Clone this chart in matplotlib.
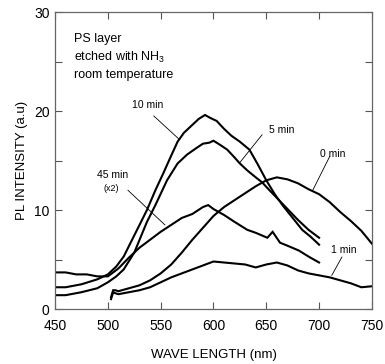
import matplotlib
matplotlib.use("Agg")
import matplotlib.pyplot as plt
from matplotlib.ticker import MultipleLocator, FixedLocator

plt.rcParams['font.family'] = ['Liberation Sans', 'DejaVu Sans']
plt.rcParams['mathtext.fontset'] = 'custom'
plt.rcParams['mathtext.rm'] = 'Liberation Sans'

# ---- data ----
wl_10 = [450, 460, 475, 490, 500, 508, 515, 522, 530, 537, 545, 552, 560, 566, 572, 580, 586, 592, 597, 603, 610, 617, 625, 634, 642, 650, 658, 666, 675, 684, 692, 700]
pl_10 = [2.2, 2.2, 2.5, 3.0, 3.5, 4.3, 5.3, 6.8, 8.5, 10.0, 12.0, 13.6, 15.5, 16.9, 17.8, 18.6, 19.2, 19.6, 19.3, 19.0, 18.2, 17.5, 16.9, 16.1, 14.6, 13.0, 11.6, 10.4, 9.2, 8.0, 7.3, 6.5]

wl_5 = [450, 460, 475, 490, 500, 508, 515, 525, 537, 545, 556, 566, 575, 583, 590, 596, 600, 606, 613, 620, 625, 632, 640, 646, 653, 662, 671, 680, 690, 700]
pl_5 = [1.4, 1.4, 1.7, 2.1, 2.7, 3.3, 4.0, 5.7, 8.8, 10.5, 13.0, 14.7, 15.6, 16.2, 16.7, 16.8, 17.0, 16.6, 16.1, 15.3, 14.7, 14.0, 13.3, 12.8, 12.0, 11.0, 10.0, 9.0, 8.0, 7.2]

wl_0 = [503, 505, 507, 510, 520, 530, 540, 550, 560, 570, 580, 590, 600, 610, 620, 630, 640, 650, 660, 670, 680, 690, 700, 710, 720, 730, 740, 750]
pl_0 = [1.2, 1.9, 1.9, 1.8, 2.1, 2.4, 2.9, 3.6, 4.5, 5.7, 7.0, 8.2, 9.4, 10.3, 11.0, 11.7, 12.4, 13.0, 13.3, 13.1, 12.7, 12.1, 11.6, 10.8, 9.8, 8.9, 7.9, 6.6]

wl_1 = [503, 505, 507, 510, 520, 530, 540, 550, 560, 570, 580, 590, 600, 610, 620, 630, 640, 650, 660, 670, 680, 690, 700, 710, 720, 730, 740, 750]
pl_1 = [1.0, 1.7, 1.6, 1.5, 1.7, 1.9, 2.2, 2.7, 3.2, 3.6, 4.0, 4.4, 4.8, 4.7, 4.6, 4.5, 4.2, 4.5, 4.7, 4.4, 3.9, 3.6, 3.4, 3.2, 2.9, 2.6, 2.2, 2.3]

wl_45 = [450, 460, 470, 480, 490, 500, 510, 520, 530, 540, 550, 560, 570, 580, 590, 595, 600, 610, 620, 632, 640, 651, 656, 663, 670, 681, 690, 700]
pl_45 = [3.7, 3.7, 3.5, 3.5, 3.3, 3.3, 4.1, 5.2, 6.2, 7.0, 7.8, 8.5, 9.2, 9.6, 10.3, 10.5, 10.1, 9.5, 8.8, 8.0, 7.7, 7.2, 7.8, 6.7, 6.4, 5.9, 5.3, 4.7]

x_ticks = [450, 500, 550, 600, 650, 700, 750]
y_ticks = [0, 10, 20, 30]

series = [(wl_10, pl_10), (wl_5, pl_5), (wl_0, pl_0), (wl_1, pl_1), (wl_45, pl_45)]

labels = [
    ("10 min", (538, 20.6), (543.5, 19.5), (568, 17.1)),
    ("5 min", (665, 18.1), (646, 17.6), (625, 14.8)),
    ("0 min", (713, 15.7), (710, 15.4), (694, 12.0)),
    ("1 min", (723, 6.0), (721.6, 5.25), (712, 3.4)),
]

fig = plt.figure(figsize=(3.85, 3.64), dpi=100)
ax = fig.add_axes([0.143, 0.151, 0.823, 0.816])

for wl, pl in series:
    ax.plot(wl, pl, color='black', lw=1.5, solid_joinstyle='miter')

for text, tpos, p0, p1 in labels:
    ax.text(tpos[0], tpos[1], text, fontsize=7.5, ha='center', va='center')
    ax.plot([p0[0], p1[0]], [p0[1], p1[1]], color='black', lw=0.6)

ax.text(504, 13.5, "45 min", fontsize=7.5, ha='center', va='center')
ax.text(503, 12.2, "(x2)", fontsize=6.5, ha='center', va='center')
ax.plot([519, 554], [12.0, 8.5], color='black', lw=0.6)

ax.text(468, 27.9, "PS layer\netched with NH$_3$\nroom temperature",
        fontsize=9, ha='left', va='top', linespacing=1.45)

ax.set_xlim(450, 750)
ax.set_ylim(0, 30)
ax.xaxis.set_major_locator(FixedLocator(x_ticks))
ax.yaxis.set_major_locator(FixedLocator(y_ticks))
ax.yaxis.set_minor_locator(MultipleLocator(5))
ax.tick_params(which='both', direction='in', top=True, right=True,
               labelsize=10, color='#555555', width=0.8)
ax.tick_params(axis='x', pad=7)
ax.tick_params(axis='y', pad=4)
ax.tick_params(which='major', length=5)
ax.tick_params(which='minor', length=5)
for s in ax.spines.values():
    s.set_color('#666666')
    s.set_linewidth(0.9)

ax.set_xlabel("WAVE LENGTH (nm)", fontsize=9.5, labelpad=12)
ax.set_ylabel("PL INTENSITY (a.u)", fontsize=9.5, labelpad=4)

fig.savefig("out.png", dpi=100)
